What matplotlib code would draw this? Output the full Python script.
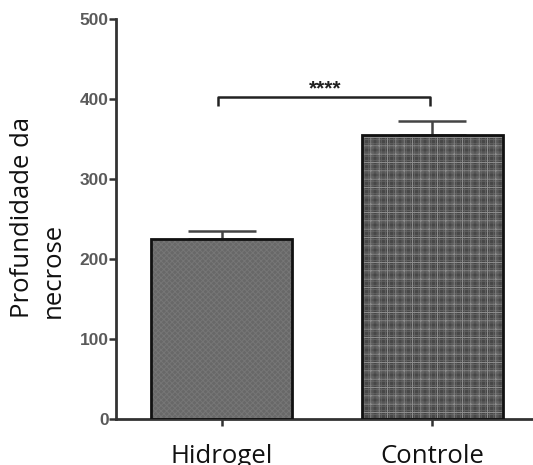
import matplotlib.pyplot as plt
import numpy as np

# data
groups = ['Hidrogel', 'Controle']
means = [225, 355]
errors = [10, 18]
y_ticks = [0, 100, 200, 300, 400, 500]
signif = '****'
bracket_y = 403
bracket_drop = 11

x = np.arange(len(groups))

plt.rcParams['hatch.linewidth'] = 0.7

fig = plt.figure(figsize=(5.33, 4.65), dpi=100)
ax = fig.add_axes([0.217, 0.098, 0.783, 0.8605])

face = ['#686868', '#474747']
hatch_fine = ['xxxxxx', '++++']
color_fine = ['#767676', '#626262']
hatch_coarse = [None, '++']
color_coarse = [None, '#8e8e8e']

for i in range(len(groups)):
    ax.bar(x[i], means[i], width=0.67, color=face[i], edgecolor=color_fine[i],
           hatch=hatch_fine[i], linewidth=0, zorder=2)
    if hatch_coarse[i]:
        ax.bar(x[i], means[i], width=0.67, fill=False, edgecolor=color_coarse[i],
               hatch=hatch_coarse[i], linewidth=0, zorder=2.5)
    # outline
    ax.bar(x[i], means[i], width=0.67, fill=False, edgecolor='#111111',
           linewidth=2, zorder=3)

ax.errorbar(x, means, yerr=[[0, 0], errors], fmt='none', ecolor='#444444',
            elinewidth=1.8, capsize=24.5, capthick=1.8, zorder=1)

# significance bracket
bx = [x[0] - 0.02, x[0] - 0.02, x[1] - 0.01, x[1] - 0.01]
by = [bracket_y - bracket_drop, bracket_y, bracket_y, bracket_y - bracket_drop]
ax.plot(bx, by, color='#222222', linewidth=1.8, solid_capstyle='butt')
ax.text((x[0] + x[1]) / 2 - 0.01, bracket_y + 3, signif, ha='center', va='baseline',
        fontsize=15, fontweight='bold', family='Liberation Sans', color='#222222')

ax.set_xlim(-0.505, 1.48)
ax.set_ylim(0, 500)
ax.set_yticks(y_ticks)
ax.set_xticks(x)
ax.set_xticklabels(groups, family='Open Sans', fontsize=18.5, color='#111111')
for lab in ax.get_yticklabels():
    lab.set_family('Liberation Sans')
    lab.set_fontweight('bold')
    lab.set_fontsize(12.5)
    lab.set_color('#5a5a5a')

ax.tick_params(axis='y', length=5, width=1.8, pad=0, color='#333333')
ax.tick_params(axis='x', length=5, width=1.8, pad=13, color='#333333')

for s in ['top', 'right']:
    ax.spines[s].set_visible(False)
for s in ['left', 'bottom']:
    ax.spines[s].set_linewidth(2)
    ax.spines[s].set_color('#333333')

fig.text(0.018, 0.316, 'Profundidade da\nnecrose', rotation=90, ha='left', va='bottom',
         multialignment='left', family='Open Sans', fontsize=18.5, color='#111111',
         linespacing=1.3)

fig.savefig('out.png', dpi=100)
